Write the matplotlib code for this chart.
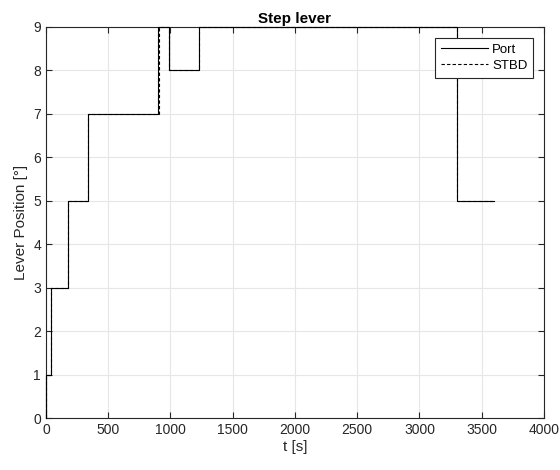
import matplotlib
matplotlib.use('Agg')
import matplotlib.pyplot as plt

# step times [s] and lever levels [deg]
port_t = [0, 2, 42, 175, 336, 899, 985, 1226, 3305, 3600]
port_lev = [0, 1, 3, 5, 7, 9, 8, 9, 5, 5]
stbd_t = [0, 3, 44, 176, 337, 906, 987, 1227, 3305, 3600]
stbd_lev = [0, 1, 3, 5, 7, 9, 8, 9, 5, 5]

plt.rcParams['font.family'] = ['Liberation Sans', 'DejaVu Sans']

fig = plt.figure(figsize=(5.6, 4.7), dpi=100)
ax = fig.add_axes([0.0821, 0.1106, 0.8893, 0.832])

ax.plot(port_t, port_lev, drawstyle='steps-post', color='black', lw=0.8,
        label='Port', zorder=3, clip_on=False)
ax.plot(stbd_t, stbd_lev, drawstyle='steps-post', color='black', lw=0.8,
        linestyle=(0, (3, 2)), label='STBD', zorder=3, clip_on=False)

ax.set_xlim(0, 4000)
ax.set_ylim(0, 9)
ax.set_xticks(range(0, 4001, 500))
ax.set_yticks(range(0, 10))
ax.grid(True, color='#e6e6e6', lw=0.8)
ax.set_axisbelow(True)
ax.tick_params(direction='in', top=True, right=True, labelsize=10, length=4,
               color='#262626', labelcolor='#262626')
for s in ax.spines.values():
    s.set_color('#262626')
    s.set_linewidth(0.8)

ax.set_title('Step lever', fontsize=11, fontweight='bold', pad=3)
ax.set_xlabel('t [s]', fontsize=11, color='#262626', labelpad=2)
ax.set_ylabel('Lever Position [°]', fontsize=11, color='#262626', labelpad=4)

leg = ax.legend(loc='upper right', fontsize=9.5, fancybox=False, framealpha=1,
                edgecolor='#262626', handlelength=3.6, borderpad=0.45,
                labelspacing=0.3, handletextpad=0.3, borderaxespad=0.8)
leg.set_zorder(5)
leg.get_frame().set_linewidth(0.8)

plt.savefig('out.png', dpi=100)
